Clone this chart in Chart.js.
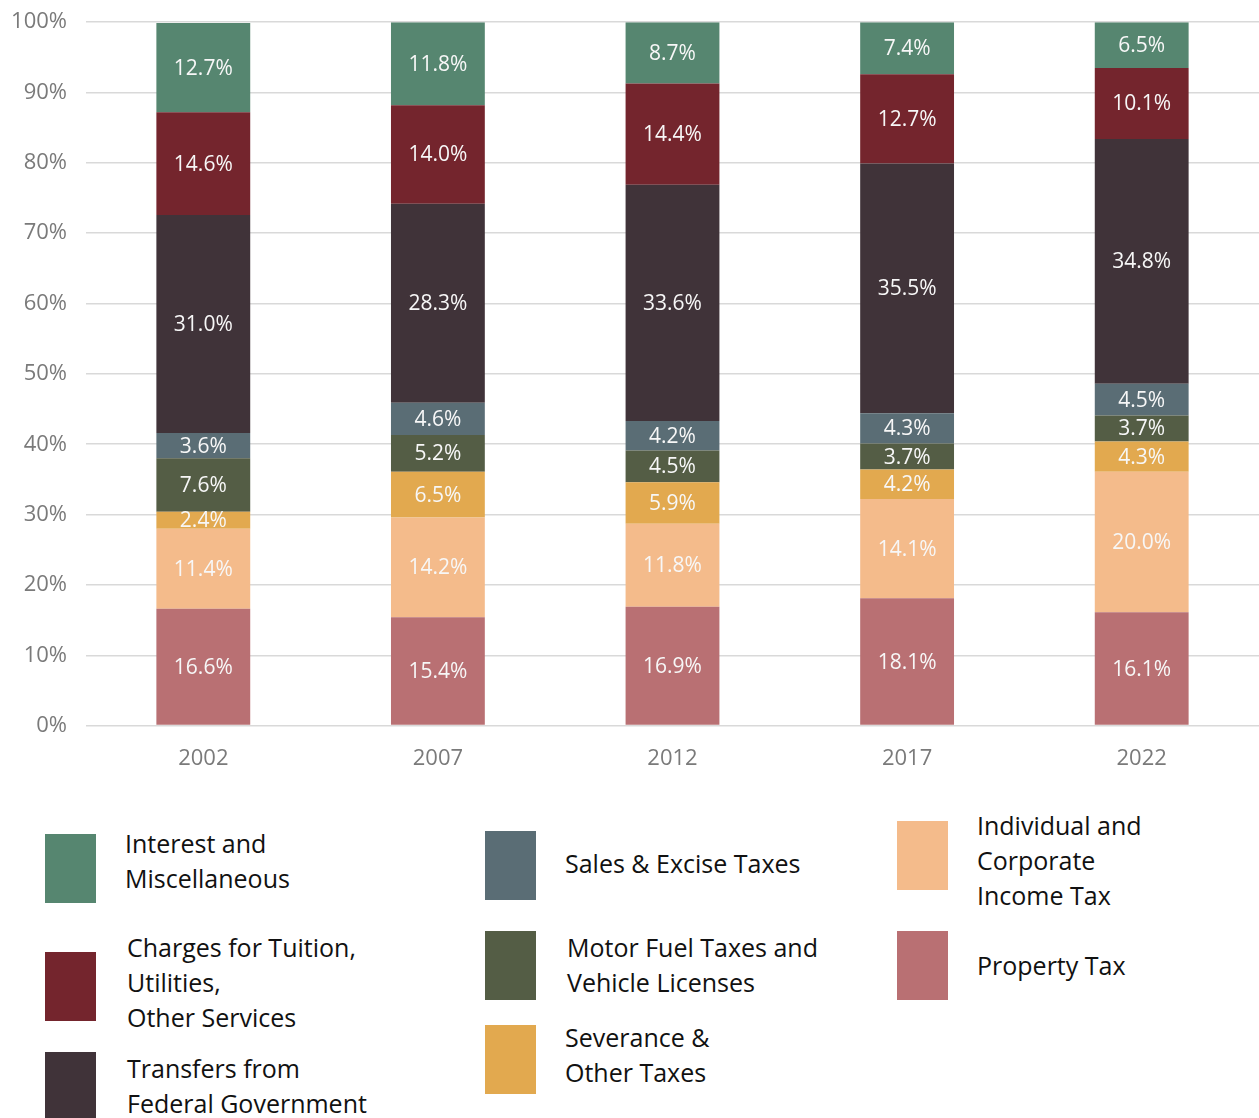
<!DOCTYPE html>
<html>
<head>
<meta charset="utf-8">
<script src="https://cdn.jsdelivr.net/npm/chart.js@4.4.1/dist/chart.umd.min.js"></script>
<style>
  html, body {
    margin: 0;
    padding: 0;
    width: 1259px;
    height: 1118px;
    overflow: hidden;
    background: #fff;
    font-family: "Open Sans", sans-serif;
  }
  #wrap {
    position: absolute;
    left: 0;
    top: -10px;
    width: 1259px;
    height: 798px;
  }
  .swatch {
    position: absolute;
    width: 51px;
    height: 69px;
  }
  .item {
    position: absolute;
    font-size: 25px;
    line-height: 35px;
    color: #111;
    white-space: nowrap;
  }
</style>
</head>
<body>
<div id="wrap"><canvas id="myChart"></canvas></div>
<div id="legend"></div>

<script>
// categories (years)
const years = ["2002", "2007", "2012", "2017", "2022"];

// series, bottom of the stack first (percent of total)
const propertyTax = [16.6, 15.4, 16.9, 18.1, 16.1];
const incomeTax = [11.4, 14.2, 11.8, 14.1, 20.0];
const severanceTax = [2.4, 6.5, 5.9, 4.2, 4.3];
const motorFuelTax = [7.6, 5.2, 4.5, 3.7, 3.7];
const salesTax = [3.6, 4.6, 4.2, 4.3, 4.5];
const federalTransfers = [31.0, 28.3, 33.6, 35.5, 34.8];
const chargesTuition = [14.6, 14.0, 14.4, 12.7, 10.1];
const interestMisc = [12.7, 11.8, 8.7, 7.4, 6.5];

const yTicks = [0, 10, 20, 30, 40, 50, 60, 70, 80, 90, 100];

const series = [
  { label: "Property Tax", data: propertyTax, color: "#B97073" },
  { label: "Individual and Corporate Income Tax", data: incomeTax, color: "#F4BB8B" },
  { label: "Severance & Other Taxes", data: severanceTax, color: "#E2A94F" },
  { label: "Motor Fuel Taxes and Vehicle Licenses", data: motorFuelTax, color: "#545D45" },
  { label: "Sales & Excise Taxes", data: salesTax, color: "#5A6D75" },
  { label: "Transfers from Federal Government", data: federalTransfers, color: "#403339" },
  { label: "Charges for Tuition, Utilities, Other Services", data: chargesTuition, color: "#74252D" },
  { label: "Interest and Miscellaneous", data: interestMisc, color: "#568670" },
];

// draws "12.7%" in the middle of every segment
const segmentLabels = {
  id: "segmentLabels",
  afterDatasetsDraw(chart) {
    const ctx = chart.ctx;
    ctx.save();
    ctx.font = "21px 'Open Sans'";
    ctx.fillStyle = "#f7f7f7";
    ctx.textAlign = "center";
    ctx.textBaseline = "middle";
    chart.data.datasets.forEach((ds, i) => {
      const meta = chart.getDatasetMeta(i);
      meta.data.forEach((bar, j) => {
        const y = (bar.y + bar.base) / 2;
        ctx.fillText(ds.data[j].toFixed(1) + "%", bar.x, y + 1);
      });
    });
    ctx.restore();
  },
};

const ctx = document.getElementById("myChart");

new Chart(ctx, {
  type: "bar",
  data: {
    labels: years,
    datasets: series.map((s) => ({
      label: s.label,
      data: s.data,
      backgroundColor: s.color,
      borderWidth: 0,
      categoryPercentage: 1,
      barPercentage: 0.4,
    })),
  },
  options: {
    responsive: true,
    maintainAspectRatio: false,
    animation: false,
    layout: {
      padding: { top: 1, right: 0, bottom: 4, left: 0 },
    },
    plugins: {
      legend: { display: false },
      tooltip: { enabled: false },
    },
    scales: {
      x: {
        stacked: true,
        grid: { display: false },
        border: { display: false },
        ticks: {
          color: "#7a7a7a",
          font: { family: "Open Sans", size: 22 },
          padding: 12,
        },
      },
      y: {
        stacked: true,
        min: 0,
        max: 100,
        afterBuildTicks: (scale) => {
          scale.ticks = yTicks.map((v) => ({ value: v }));
        },
        afterFit: (scale) => {
          scale.width = 86;
        },
        grid: {
          color: "#d9d9d9",
          lineWidth: 1.5,
          drawTicks: false,
        },
        border: { display: false },
        ticks: {
          color: "#7a7a7a",
          font: { family: "Open Sans", size: 22 },
          padding: 19,
          callback: (v) => v + "%",
        },
      },
    },
  },
  plugins: [segmentLabels],
});

// legend, laid out in three loose columns like the original
const legendItems = [
  { color: "#568670", sx: 45, sy: 834, tx: 125, ty: 826, text: "Interest and<br>Miscellaneous" },
  { color: "#74252D", sx: 45, sy: 952, tx: 127, ty: 930, text: "Charges for Tuition,<br>Utilities,<br>Other Services" },
  { color: "#403339", sx: 45, sy: 1052, tx: 127, ty: 1051, text: "Transfers from<br>Federal Government" },
  { color: "#5A6D75", sx: 485, sy: 831, tx: 565, ty: 846, text: "Sales &amp; Excise Taxes" },
  { color: "#545D45", sx: 485, sy: 931, tx: 567, ty: 930, text: "Motor Fuel Taxes and<br>Vehicle Licenses" },
  { color: "#E2A94F", sx: 485, sy: 1025, tx: 565, ty: 1020, text: "Severance &amp;<br>Other Taxes" },
  { color: "#F4BB8B", sx: 897, sy: 821, tx: 977, ty: 808, text: "Individual and<br>Corporate<br>Income Tax" },
  { color: "#B97073", sx: 897, sy: 931, tx: 977, ty: 948, text: "Property Tax" },
];

const legend = document.getElementById("legend");
legendItems.forEach((it) => {
  const sw = document.createElement("div");
  sw.className = "swatch";
  sw.style.left = it.sx + "px";
  sw.style.top = it.sy + "px";
  sw.style.background = it.color;
  legend.appendChild(sw);

  const tx = document.createElement("div");
  tx.className = "item";
  tx.style.left = it.tx + "px";
  tx.style.top = it.ty + "px";
  tx.innerHTML = it.text;
  legend.appendChild(tx);
});
</script>
</body>
</html>
